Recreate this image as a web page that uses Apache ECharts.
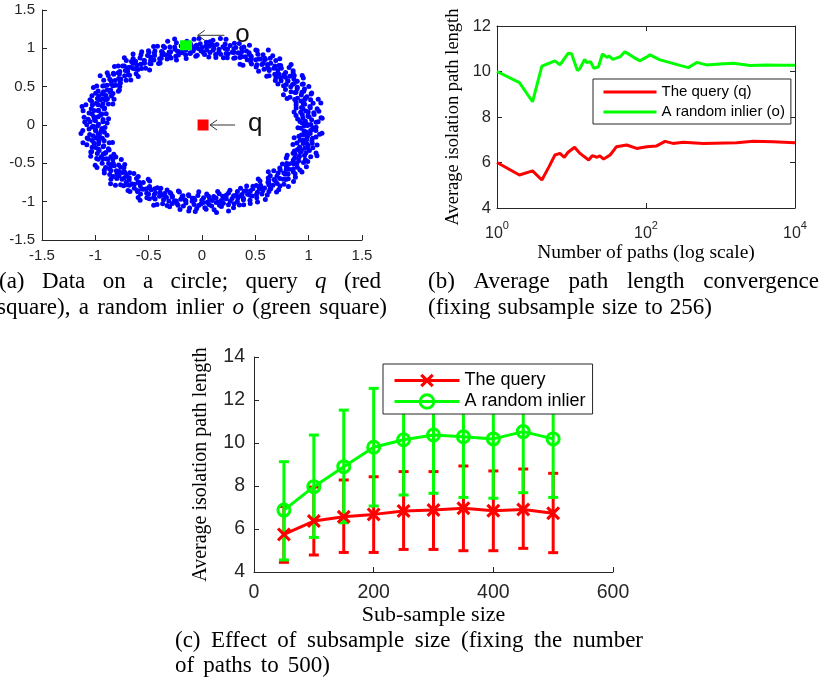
<!DOCTYPE html>
<html><head><meta charset="utf-8">
<script src="https://cdn.jsdelivr.net/npm/echarts@6.0.0/dist/echarts.min.js"></script>
<style>html,body{margin:0;padding:0;background:#fff}#c{width:821px;height:684px}</style>
</head><body><div id="c"></div>
<script>
// ================= DATA =================
// (a) points on a noisy circle, read as [angle in degrees, radius]
const ringPoints = [
[0.4,1.02],[1.5,0.94],[2.3,1.09],[3.1,0.97],[4.4,1.13],[5.0,0.90],[6.2,1.01],[7.5,1.06],[8.1,0.95],[9.3,1.11],
[10.6,0.99],[11.2,0.88],[12.5,1.04],[13.7,0.96],[14.4,1.15],[15.8,1.00],[16.5,0.92],[17.9,1.07],[18.6,0.98],[19.8,1.03],
[20.9,0.93],[21.6,1.10],[22.8,1.01],[23.5,0.87],[24.7,1.05],[25.9,0.97],[26.6,1.12],[27.4,0.94],[28.8,1.02],[29.5,1.08],
[30.7,0.91],[31.9,1.00],[32.6,1.06],[33.8,0.95],[34.5,1.14],[35.7,0.99],[36.9,0.89],[37.6,1.04],[38.4,1.09],[39.9,0.96],
[40.5,1.01],[41.8,0.93],[42.6,1.11],[43.3,0.98],[44.9,1.05],[45.6,0.90],[46.4,1.07],[47.7,1.00],[48.5,0.95],[49.8,1.13],
[50.6,0.97],[51.3,1.03],[52.9,0.88],[53.7,1.08],[54.5,0.99],[55.2,1.04],[56.8,0.94],[57.6,1.16],[58.3,1.01],[59.7,0.92],
[60.4,1.06],[61.9,0.98],[62.7,1.10],[63.5,0.95],[64.2,1.02],[65.8,0.87],[66.6,1.05],[67.3,0.97],[68.9,1.09],[69.6,1.00],
[70.4,0.93],[71.8,1.12],[72.5,0.99],[73.3,1.04],[74.9,0.91],[75.7,1.07],[76.4,0.96],[77.8,1.02],[78.6,1.14],[79.3,0.94],
[80.8,1.00],[81.6,0.89],[82.4,1.06],[83.9,0.98],[84.7,1.11],[85.5,0.95],[86.2,1.03],[87.8,1.08],[88.5,0.92],[89.9,1.01],
[90.6,0.97],[91.4,1.13],[92.9,1.04],[93.7,0.90],[94.3,1.00],[95.9,1.07],[96.6,0.95],[97.4,1.10],[98.8,0.99],[99.5,0.93],
[100.7,1.05],[101.5,0.98],[102.9,1.15],[103.6,0.94],[104.4,1.02],[105.8,0.88],[106.5,1.06],[107.9,1.00],[108.6,0.96],[109.4,1.09],
[110.8,0.92],[111.6,1.03],[112.3,0.99],[113.9,1.12],[114.7,0.95],[115.4,1.04],[116.9,0.90],[117.7,1.07],[118.5,1.01],[119.8,0.97],
[120.6,1.11],[121.3,0.94],[122.8,1.00],[123.6,1.05],[124.4,0.87],[125.9,0.98],[126.7,1.08],[127.5,0.93],[128.9,1.03],[129.7,1.14],
[130.5,0.96],[131.9,1.01],[132.7,0.91],[133.4,1.06],[134.8,0.99],[135.6,1.10],[136.3,0.94],[137.8,1.04],[138.6,0.89],[139.4,1.02],
[140.9,1.07],[141.7,0.97],[142.5,1.12],[143.9,0.95],[144.6,1.00],[145.4,1.05],[146.9,0.92],[147.7,1.09],[148.4,0.98],[149.8,1.03],
[150.6,0.90],[151.4,1.06],[152.8,1.00],[153.6,0.96],[154.3,1.13],[155.9,0.93],[156.7,1.02],[157.4,1.08],[158.9,0.95],[159.7,0.99],
[160.5,1.04],[161.8,0.88],[162.6,1.10],[163.3,0.97],[164.9,1.01],[165.7,1.06],[166.4,0.94],[167.9,1.15],[168.7,0.99],[169.4,1.03],
[170.8,0.91],[171.6,1.07],[172.4,0.96],[173.9,1.02],[174.7,1.11],[175.5,0.93],[176.8,1.00],[177.6,1.05],[178.3,0.89],[179.9,1.08],
[180.7,0.98],[181.4,1.03],[182.8,0.94],[183.6,1.12],[184.3,1.00],[185.9,0.92],[186.7,1.06],[187.5,0.97],[188.9,1.09],[189.6,1.01],
[190.4,0.95],[191.8,1.14],[192.5,0.99],[193.3,1.04],[194.9,0.90],[195.7,1.07],[196.4,0.96],[197.8,1.02],[198.6,1.10],[199.4,0.93],
[200.8,1.05],[201.6,0.97],[202.3,1.00],[203.9,1.08],[204.7,0.91],[205.4,1.03],[206.8,0.99],[207.6,1.13],[208.3,0.95],[209.9,1.01],
[210.7,0.88],[211.5,1.06],[212.9,0.98],[213.6,1.04],[214.4,1.11],[215.8,0.94],[216.6,1.00],[217.3,0.92],[218.9,1.07],[219.7,0.97],
[220.4,1.02],[221.8,1.15],[222.6,0.96],[223.3,1.03],[224.8,0.90],[225.6,1.09],[226.4,0.99],[227.9,1.05],[228.7,0.93],[229.5,1.01],
[230.9,1.10],[231.7,0.95],[232.4,1.04],[233.8,0.98],[234.6,0.87],[235.3,1.06],[236.9,1.00],[237.7,1.12],[238.5,0.94],[239.8,1.03],
[240.6,0.97],[241.4,1.08],[242.9,0.92],[243.7,1.01],[244.4,1.05],[245.8,0.96],[246.6,1.14],[247.3,0.99],[248.9,0.91],[249.7,1.04],
[250.5,1.00],[251.9,0.94],[252.7,1.10],[253.4,0.98],[254.8,1.06],[255.6,0.89],[256.3,1.02],[257.9,1.07],[258.7,0.95],[259.4,1.12],
[260.8,0.99],[261.6,1.03],[262.4,0.93],[263.9,1.09],[264.7,1.00],[265.5,0.96],[266.8,1.13],[267.6,0.92],[268.3,1.05],[269.9,0.98],
[270.7,1.01],[271.4,1.08],[272.8,0.90],[273.6,1.04],[274.3,0.97],[275.9,1.11],[276.7,0.94],[277.5,1.02],[278.9,1.06],[279.6,0.88],
[280.4,1.00],[281.8,0.95],[282.5,1.15],[283.3,0.99],[284.9,1.03],[285.7,0.92],[286.4,1.07],[287.8,0.97],[288.6,1.10],[289.4,1.01],
[290.9,0.93],[291.7,1.05],[292.5,0.98],[293.8,1.12],[294.6,0.95],[295.3,1.00],[296.9,1.04],[297.7,0.90],[298.4,1.08],[299.8,0.96],
[300.6,1.02],[301.4,1.14],[302.8,0.94],[303.6,1.03],[304.3,0.99],[305.9,1.07],[306.7,0.91],[307.4,1.05],[308.8,1.00],[309.6,0.97],
[310.4,1.11],[311.9,0.93],[312.7,1.04],[313.5,0.98],[314.8,1.09],[315.6,0.87],[316.3,1.01],[317.9,1.06],[318.7,0.95],[319.4,1.13],
[320.8,0.99],[321.6,1.03],[322.4,0.92],[323.9,1.08],[324.7,1.00],[325.5,0.96],[326.8,1.12],[327.6,0.94],[328.3,1.05],[329.9,0.98],
[330.7,1.02],[331.4,0.90],[332.8,1.07],[333.6,0.97],[334.3,1.10],[335.9,1.00],[336.7,0.93],[337.5,1.04],[338.9,0.99],[339.6,1.15],
[340.4,0.95],[341.8,1.06],[342.5,1.01],[343.3,0.89],[344.9,1.03],[345.7,0.98],[346.4,1.11],[347.8,0.94],[348.6,1.05],[349.4,1.00],
[350.9,0.92],[351.7,1.08],[352.5,0.97],[353.8,1.02],[354.6,1.13],[355.3,0.96],[356.9,1.04],[357.7,0.90],[358.4,1.07],[359.6,0.99]
];
const ringPoints2 = [
[0.9,0.98],[2.0,1.07],[2.8,0.92],[3.8,1.03],[4.9,1.12],[5.5,0.95],[6.8,1.00],[7.9,0.89],[8.6,1.06],[9.7,1.01],
[10.2,0.94],[11.1,1.10],[12.6,0.97],[13.4,1.04],[14.1,0.91],[15.3,1.08],[16.4,0.99],[17.1,1.14],[18.4,0.93],[19.1,1.02],
[20.6,1.05],[21.3,0.96],[22.1,1.11],[23.7,0.90],[24.6,1.03],[25.9,0.98],[26.1,1.07],[27.4,0.86],[28.0,1.01],[29.4,1.09],
[30.9,0.97],[32.0,1.02],[32.8,1.13],[33.8,0.92],[34.9,1.05],[35.5,0.99],[36.8,1.08],[37.9,0.94],[38.6,1.00],[39.7,1.11],
[40.2,0.90],[41.1,1.04],[42.6,0.98],[43.4,1.15],[44.1,0.95],[45.3,1.01],[46.4,0.88],[47.1,1.06],[48.4,1.03],[49.1,0.96],
[50.6,1.09],[51.3,0.93],[52.1,1.00],[53.7,1.12],[54.6,0.97],[55.9,1.05],[56.1,0.91],[57.4,1.02],[58.0,1.08],[59.4,0.99],
[60.9,0.94],[62.0,1.10],[62.8,1.01],[63.8,0.87],[64.9,1.04],[65.5,0.98],[66.8,1.13],[67.9,0.95],[68.6,1.03],[69.7,1.07],
[70.2,1.00],[71.1,0.92],[72.6,1.06],[73.4,0.99],[74.1,1.11],[75.3,0.96],[76.4,1.02],[77.1,0.90],[78.4,1.08],[79.1,1.04],
[80.6,0.97],[81.3,1.14],[82.1,0.93],[83.7,1.01],[84.6,1.05],[85.9,0.89],[86.1,1.09],[87.4,0.98],[88.0,1.03],[89.4,0.95],
[90.9,1.06],[92.0,1.00],[92.8,0.91],[93.8,1.12],[94.9,0.97],[95.5,1.04],[96.8,0.94],[97.9,1.08],[98.6,1.01],[99.7,0.88],
[100.2,1.03],[101.1,0.96],[102.6,1.10],[103.4,0.99],[104.1,1.05],[105.3,0.93],[106.4,1.14],[107.1,1.00],[108.4,0.92],[109.1,1.07],
[110.6,0.98],[111.3,1.02],[112.1,1.11],[113.7,0.95],[114.6,1.06],[115.9,0.90],[116.1,1.01],[117.4,1.09],[118.0,0.96],[119.4,1.04],
[120.9,0.93],[122.0,1.08],[122.8,1.00],[123.8,0.97],[124.9,1.13],[125.5,0.91],[126.8,1.04],[127.9,0.99],[128.6,1.06],[129.7,0.94],
[130.2,1.10],[131.1,0.98],[132.6,1.02],[133.4,0.87],[134.1,1.07],[135.3,1.01],[136.4,0.95],[137.1,1.12],[138.4,0.97],[139.1,1.04],
[140.6,0.92],[141.3,1.06],[142.1,0.99],[143.7,1.09],[144.6,0.94],[145.9,1.03],[146.1,1.15],[147.4,0.96],[148.0,1.00],[149.4,0.90],
[150.9,1.05],[152.0,0.97],[152.8,1.11],[153.8,0.93],[154.9,1.02],[155.5,1.07],[156.8,0.98],[157.9,0.89],[158.6,1.04],[159.7,1.10],
[160.2,0.96],[161.1,1.01],[162.6,0.92],[163.4,1.08],[164.1,1.03],[165.3,0.97],[166.4,1.12],[167.1,0.94],[168.4,1.06],[169.1,0.99],
[170.6,1.13],[171.3,0.95],[172.1,1.04],[173.7,0.98],[174.6,0.88],[175.9,1.07],[176.1,1.01],[177.4,0.93],[178.0,1.10],[179.4,0.97],
[180.9,1.02],[182.0,0.91],[182.8,1.06],[183.8,1.00],[184.9,0.95],[185.5,1.14],[186.8,0.98],[187.9,1.03],[188.6,0.90],[189.7,1.08],
[190.2,0.99],[191.1,1.05],[192.6,0.94],[193.4,1.11],[194.1,1.00],[195.3,0.87],[196.4,1.04],[197.1,0.97],[198.4,1.09],[199.1,1.02],
[200.6,0.93],[201.3,1.12],[202.1,0.98],[203.7,1.03],[204.6,1.07],[205.9,0.95],[206.1,1.00],[207.4,0.91],[208.0,1.06],[209.4,1.13],
[210.9,0.97],[212.0,1.01],[212.8,1.09],[213.8,0.94],[214.9,1.04],[215.5,0.89],[216.8,1.08],[217.9,0.99],[218.6,1.02],[219.7,1.11],
[220.2,0.95],[221.1,1.06],[222.6,0.92],[223.4,1.00],[224.1,1.13],[225.3,0.97],[226.4,1.03],[227.1,1.08],[228.4,0.90],[229.1,1.04],
[230.6,1.00],[231.3,0.96],[232.1,1.10],[233.7,0.93],[234.6,1.05],[235.9,1.01],[236.1,0.88],[237.4,1.07],[238.0,0.98],[239.4,1.14],
[240.9,1.03],[242.0,0.94],[242.8,1.08],[243.8,0.99],[244.9,0.91],[245.5,1.06],[246.8,1.01],[247.9,1.12],[248.6,0.96],[249.7,1.00],
[250.2,1.09],[251.1,0.93],[252.6,1.04],[253.4,0.97],[254.1,1.11],[255.3,1.02],[256.4,0.90],[257.1,1.05],[258.4,0.99],[259.1,0.94],
[260.6,1.07],[261.3,1.00],[262.1,0.92],[263.7,1.13],[264.6,0.96],[265.9,1.04],[266.1,0.98],[267.4,1.09],[268.0,0.87],[269.4,1.03],
[270.9,0.95],[272.0,1.10],[272.8,1.01],[273.8,0.93],[274.9,1.06],[275.5,0.99],[276.8,1.15],[277.9,0.96],[278.6,1.02],[279.7,1.08],
[280.2,0.91],[281.1,1.04],[282.6,0.98],[283.4,1.07],[284.1,0.94],[285.3,1.12],[286.4,1.00],[287.1,0.89],[288.4,1.05],[289.1,0.97],
[290.6,1.11],[291.3,0.99],[292.1,1.03],[293.7,0.90],[294.6,1.08],[295.9,0.95],[296.1,1.02],[297.4,1.13],[298.0,0.97],[299.4,1.04],
[300.9,0.93],[302.0,1.06],[302.8,0.99],[303.8,1.10],[304.9,0.96],[305.5,1.01],[306.8,0.88],[307.9,1.05],[308.6,1.12],[309.7,0.98],
[310.2,1.03],[311.1,0.95],[312.6,1.08],[313.4,1.00],[314.1,0.92],[315.3,1.14],[316.4,0.97],[317.1,1.04],[318.4,0.90],[319.1,1.07],
[320.6,1.01],[321.3,0.94],[322.1,1.11],[323.7,0.98],[324.6,1.05],[325.9,0.91],[326.1,1.03],[327.4,1.09],[328.0,0.96],[329.4,1.00],
[330.9,1.12],[332.0,0.97],[332.8,1.02],[333.8,0.89],[334.9,1.07],[335.5,1.00],[336.8,0.95],[337.9,1.10],[338.6,0.93],[339.7,1.04],
[340.2,0.99],[341.1,1.13],[342.6,0.96],[343.4,1.03],[344.1,1.08],[345.3,0.92],[346.4,1.01],[347.1,1.06],[348.4,0.97],[349.1,0.88],
[350.6,1.05],[351.3,1.00],[352.1,0.94],[353.7,1.11],[354.6,0.98],[355.9,1.02],[356.1,1.07],[357.4,0.93],[358.0,1.04],[359.4,0.96]
];
const inlierPoint = [-0.15, 1.04];   // green square "o"
const queryPoint  = [0.01, 0.0];     // red square "q"
const arrowLabels = ['o', 'q'];
const arrowHeadX  = [-0.04, 0.075];
const arrowTailX  = [0.21, 0.31];
const arrowY      = [1.17, 0.0];
const arrowLabelX = [0.38, 0.5];
const arrowLabelY = [1.18, 0.01];

// (b) average path length vs number of paths
const pathCountsInlier = [1,2,3,4,6,7,9,10,12,13,15,16,18,20,23,26,30,32,36,45,52,61,70,83,100,113,154,210,286,370,480,650,985,1490,2500,4200,6300,10000];
const inlierPathLength = [10.0,9.51,8.67,10.24,10.47,10.29,10.8,10.78,10.04,10.14,10.53,10.39,10.43,10.14,10.21,10.77,10.62,10.68,10.53,10.65,10.87,10.73,10.6,10.47,10.62,10.73,10.51,10.39,10.27,10.17,10.40,10.29,10.33,10.36,10.26,10.29,10.27,10.27];
const pathCountsQuery = [1,2,3,4,5,6,7,8,9,11,13,17,19,22,24,27,33,40,55,75,102,139,180,230,316,585,1650,2760,5100,10000];
const queryPathLength = [6.0,5.45,5.63,5.23,5.82,6.33,6.40,6.23,6.45,6.67,6.40,6.11,6.30,6.23,6.29,6.15,6.33,6.69,6.77,6.62,6.69,6.73,6.93,6.84,6.89,6.84,6.87,6.93,6.91,6.87];
const logTickValues = [1, 100, 10000];

// (c) effect of sub-sample size (mean with error bars)
const subSampleSizes = [50,100,150,200,250,300,350,400,450,500];
const queryMean  = [5.75,6.37,6.57,6.68,6.84,6.88,6.96,6.85,6.91,6.73];
const queryLow   = [4.45,4.79,4.91,4.91,5.05,5.05,4.99,4.99,5.10,4.90];
const queryHigh  = [7.05,7.95,8.28,8.43,8.67,8.67,8.93,8.70,8.79,8.59];
const inlierMean = [6.88,7.97,8.90,9.80,10.15,10.37,10.29,10.19,10.53,10.19];
const inlierLow  = [4.56,5.61,6.29,7.07,7.58,7.66,7.47,7.43,7.69,7.47];
const inlierHigh = [9.13,10.37,11.53,12.54,12.72,13.08,13.10,12.95,13.37,12.90];

// ================= STYLE / LAYOUT =================
const AX = '#262626';
const SANS = '"Liberation Sans", Arial, sans-serif';
const SERIF = '"Liberation Serif", "Times New Roman", serif';
const RED = '#ff0000', GREEN = '#00ff00', BLUE = '#0000ff';
const CAP_SIZE = 23;
const captionLines = [
  {words:['(a)','Data','on','a','circle;','query','q*','(red'], x0:-1, x1:381, y:282},
  {words:['square),','a','random','inlier','o*','(green','square)'], x0:-3, x1:387, y:308},
  {words:['(b)','Average','path','length','convergence'], x0:428, x1:819, y:282},
  {words:['(fixing','subsample','size','to','256)'], x0:428, x1:712, y:308},
  {words:['(c)','Effect','of','subsample','size','(fixing','the','number'], x0:175, x1:643, y:641},
  {words:['of','paths','to','500)'], x0:175, x1:330, y:666}
];
const X_MARK = 'path://M0,1.6L1.6,0L5,3.4L8.4,0L10,1.6L6.6,5L10,8.4L8.4,10L5,6.6L1.6,10L0,8.4L3.4,5Z';

function captionElements() {
  const ctx = document.createElement('canvas').getContext('2d');
  const els = [];
  captionLines.forEach(line => {
    const items = line.words.map(w => {
      const italic = w.endsWith('*');
      const text = italic ? w.slice(0, -1) : w;
      ctx.font = (italic ? 'italic ' : '') + CAP_SIZE + 'px "Liberation Serif"';
      return {text, italic, w: ctx.measureText(text).width};
    });
    const total = items.reduce((s, it) => s + it.w, 0);
    const gap = (line.x1 - line.x0 - total) / (items.length - 1);
    let x = line.x0;
    items.forEach(it => {
      els.push({type:'text', x: x, y: line.y, silent:true,
        style:{text: it.text, fontFamily: SERIF, fontSize: CAP_SIZE,
               fontStyle: it.italic ? 'italic' : 'normal', fill:'#000',
               align:'left', verticalAlign:'middle'}});
      x += it.w + gap;
    });
  });
  return els;
}

function axisCommon(fontSize, margin) {
  return {
    axisLine:{show:true, onZero:false, lineStyle:{color:AX, width:1}},
    axisTick:{show:true, inside:true, length:5, lineStyle:{color:AX, width:1}},
    axisLabel:{fontSize, color:AX, fontFamily:SANS, margin},
    splitLine:{show:false}
  };
}

function errorBarSeries(color, lows, highs, z) {
  return {
    type:'custom', xAxisIndex:3, yAxisIndex:3, z, silent:true,
    data: subSampleSizes.map((x, i) => [x, lows[i], highs[i]]),
    encode:{x:0, y:[1, 2]},
    renderItem(params, api) {
      const x = api.value(0);
      const lo = api.coord([x, api.value(1)]);
      const hi = api.coord([x, api.value(2)]);
      const hw = 5;
      const st = {stroke: color, lineWidth: 3};
      return {type:'group', children:[
        {type:'line', shape:{x1:lo[0], y1:lo[1], x2:hi[0], y2:hi[1]}, style:st},
        {type:'line', shape:{x1:lo[0]-hw, y1:lo[1], x2:lo[0]+hw, y2:lo[1]}, style:st},
        {type:'line', shape:{x1:hi[0]-hw, y1:hi[1], x2:hi[0]+hw, y2:hi[1]}, style:st}
      ]};
    }
  };
}

function toXY(p) {
  return [p[1] * Math.cos(p[0] * Math.PI / 180), p[1] * Math.sin(p[0] * Math.PI / 180)];
}

const chart = echarts.init(document.getElementById('c'), null, {renderer:'canvas'});

const option = {
  animation:false,
  backgroundColor:'#fff',
  textStyle:{fontFamily:SANS},
  grid:[
    {left:42, top:10, width:320, height:230},
    {left:497, top:26, width:298, height:182},
    {left:254, top:357, width:359, height:215}
  ],
  xAxis:[
    Object.assign({gridIndex:0, type:'value', min:-1.5, max:1.5, interval:0.5}, axisCommon(15, 8)),
    Object.assign({gridIndex:1, type:'log', logBase:10, min:1, max:10000,
      name:'Number of paths (log scale)', nameLocation:'middle', nameGap:33,
      nameTextStyle:{fontFamily:SERIF, fontSize:19.5, color:'#000', verticalAlign:'top'}},
      axisCommon(16, 12), {
      axisTick:{show:true, inside:true, length:5, lineStyle:{color:AX}, customValues:logTickValues},
      axisLabel:{customValues:logTickValues, margin:12, color:AX,
        formatter: v => '{b|10}{s|' + Math.round(Math.log10(v)) + '}',
        rich:{
          b:{fontSize:16, fontFamily:SANS, color:AX, lineHeight:22, verticalAlign:'bottom'},
          s:{fontSize:11, fontFamily:SANS, color:AX, lineHeight:11, verticalAlign:'top'}
        }}
    }),
    Object.assign({gridIndex:1, type:'log', logBase:10, min:1, max:10000, position:'top'},
      axisCommon(16, 8), {
      axisTick:{show:true, inside:true, length:5, lineStyle:{color:AX}, customValues:logTickValues},
      axisLabel:{show:false}
    }),
    Object.assign({gridIndex:2, type:'value', min:0, max:600, interval:200,
      name:'Sub-sample size', nameLocation:'middle', nameGap:28,
      nameTextStyle:{fontFamily:SERIF, fontSize:22, color:'#000', verticalAlign:'top'}},
      axisCommon(19.5, 11))
  ],
  yAxis:[
    Object.assign({gridIndex:0, type:'value', min:-1.5, max:1.5, interval:0.5}, axisCommon(15, 7)),
    Object.assign({gridIndex:1, type:'value', min:4, max:12, interval:2,
      name:'Average isolation path length', nameLocation:'middle', nameGap:34,
      nameTextStyle:{fontFamily:SERIF, fontSize:18.5, color:'#000'}},
      axisCommon(16.5, 6)),
    Object.assign({gridIndex:1, type:'value', min:4, max:12, interval:2, position:'right'},
      axisCommon(16, 6), {axisLabel:{show:false}}),
    Object.assign({gridIndex:2, type:'value', min:4, max:14, interval:2,
      name:'Average isolation path length', nameLocation:'middle', nameGap:43,
      nameTextStyle:{fontFamily:SERIF, fontSize:20, color:'#000'}},
      axisCommon(19.5, 9))
  ],
  legend:[
    {
      data:[
        {name:'The query (q)', itemStyle:{opacity:0}, lineStyle:{width:3, color:RED}},
        {name:'A random inlier (o)', itemStyle:{opacity:0}, lineStyle:{width:3, color:GREEN}}
      ],
      orient:'vertical', left:593, top:79, z:20,
      itemWidth:53, itemHeight:14, itemGap:2,
      padding:[4,6,3,9],
      borderColor:AX, borderWidth:1, borderRadius:0, backgroundColor:'#fff',
      textStyle:{fontSize:15, fontFamily:SANS, color:'#000', lineHeight:18},
      selectedMode:false
    },
    {
      data:[
        {name:'The query', itemStyle:{color:RED, borderWidth:0}, lineStyle:{width:3, color:RED}},
        {name:'A random inlier', itemStyle:{color:'rgba(0,0,0,0)', borderColor:GREEN, borderWidth:3}, lineStyle:{width:3, color:GREEN}}
      ],
      orient:'vertical', left:383, top:364, z:20,
      itemWidth:65, itemHeight:17, itemGap:0,
      padding:[6,7,2,10],
      borderColor:AX, borderWidth:1, borderRadius:0, backgroundColor:'#fff',
      textStyle:{fontSize:18, fontFamily:SANS, color:'#000', lineHeight:21},
      selectedMode:false
    }
  ],
  graphic:{elements: captionElements()},
  series:[
    // (a)
    {type:'scatter', xAxisIndex:0, yAxisIndex:0, silent:true, symbol:'circle', symbolSize:5,
      itemStyle:{color:BLUE, opacity:1},
      data: ringPoints.concat(ringPoints2).map(toXY)},
    {type:'scatter', xAxisIndex:0, yAxisIndex:0, silent:true, symbol:'rect', symbolSize:[12,10], z:5,
      itemStyle:{color:GREEN, opacity:1}, data:[inlierPoint]},
    {type:'scatter', xAxisIndex:0, yAxisIndex:0, silent:true, symbol:'rect', symbolSize:[11,11], z:5,
      itemStyle:{color:RED, opacity:1}, data:[queryPoint]},
    {type:'custom', xAxisIndex:0, yAxisIndex:0, silent:true, z:6,
      data: arrowLabels.map((t, i) => [arrowHeadX[i], arrowY[i], arrowTailX[i], arrowLabelX[i], arrowLabelY[i]]),
      encode:{x:[0,2,3], y:[1,4]},
      renderItem(params, api) {
        const head = api.coord([api.value(0), api.value(1)]);
        const tail = api.coord([api.value(2), api.value(1)]);
        const lab = api.coord([api.value(3), api.value(4)]);
        const st = {stroke:'#333', lineWidth:1, fill:null};
        return {type:'group', children:[
          {type:'line', shape:{x1:head[0], y1:head[1], x2:tail[0], y2:tail[1]}, style:st},
          {type:'polyline', shape:{points:[[head[0]+7, head[1]-5], [head[0], head[1]], [head[0]+7, head[1]+5]]}, style:st},
          {type:'text', x:lab[0], y:lab[1], style:{text:arrowLabels[params.dataIndex], fontSize:26,
            fontFamily:SANS, fill:'#111', align:'center', verticalAlign:'middle'}}
        ]};
      }},
    // (b)
    {name:'The query (q)', type:'line', xAxisIndex:1, yAxisIndex:1, symbol:'none', showSymbol:false,
      lineStyle:{color:RED, width:3}, itemStyle:{color:RED}, z:3,
      data: pathCountsQuery.map((n, i) => [n, queryPathLength[i]])},
    {name:'A random inlier (o)', type:'line', xAxisIndex:1, yAxisIndex:1, symbol:'none', showSymbol:false,
      lineStyle:{color:GREEN, width:3}, itemStyle:{color:GREEN}, z:3,
      data: pathCountsInlier.map((n, i) => [n, inlierPathLength[i]])},
    // (c)
    errorBarSeries(RED, queryLow, queryHigh, 2),
    errorBarSeries(GREEN, inlierLow, inlierHigh, 3),
    {name:'The query', type:'line', xAxisIndex:3, yAxisIndex:3, z:4,
      symbol:X_MARK, symbolSize:14, showSymbol:true,
      lineStyle:{color:RED, width:3}, itemStyle:{color:RED, opacity:1},
      data: subSampleSizes.map((x, i) => [x, queryMean[i]])},
    {name:'A random inlier', type:'line', xAxisIndex:3, yAxisIndex:3, z:5,
      symbol:'circle', symbolSize:12, showSymbol:true,
      lineStyle:{color:GREEN, width:3}, itemStyle:{color:'rgba(0,0,0,0)', borderColor:GREEN, borderWidth:3},
      data: subSampleSizes.map((x, i) => [x, inlierMean[i]])}
  ]
};
chart.setOption(option);
</script></body></html>
